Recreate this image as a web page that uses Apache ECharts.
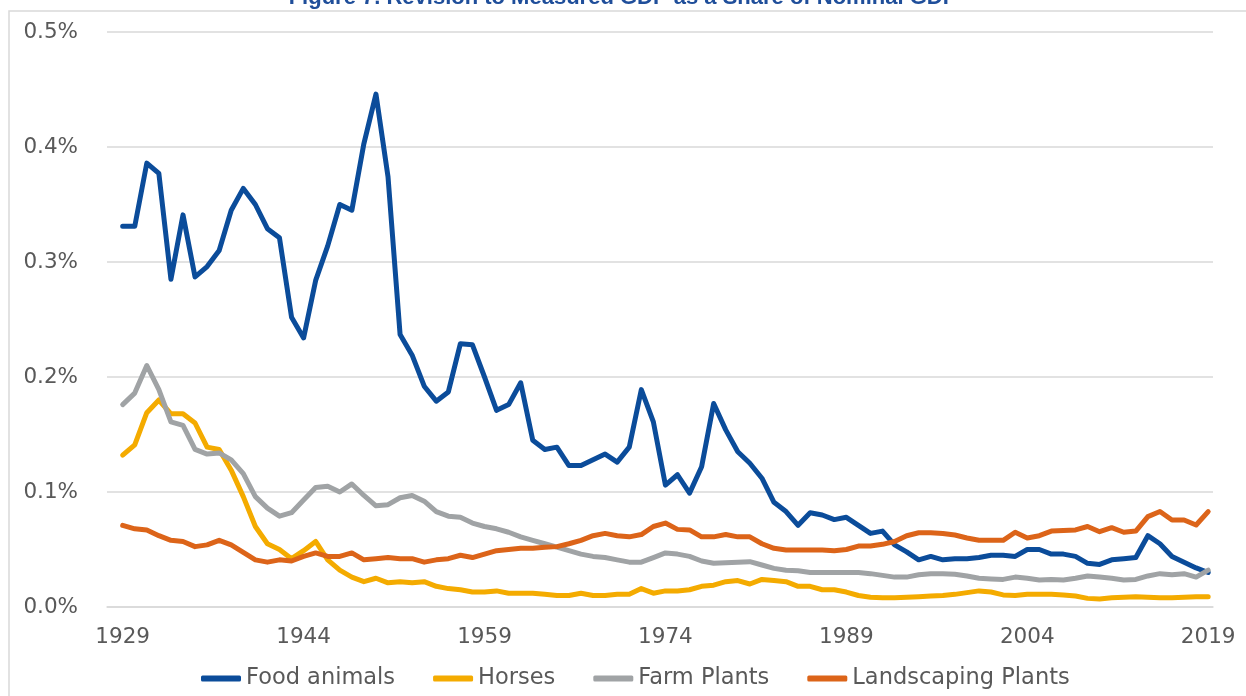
<!DOCTYPE html>
<html>
<head>
<meta charset="utf-8">
<script src="https://cdn.jsdelivr.net/npm/echarts@6/dist/echarts.min.js"></script>
<style>
html,body{margin:0;padding:0;background:#fff;}
#chart{width:1246px;height:696px;}
</style>
</head>
<body>
<div id="chart"></div>
<script>
const titleText = 'Figure 7. Revision to Measured GDP as a Share of Nominal GDP';
const firstYear = 1929, lastYear = 2019;
const tickYears = [1929, 1944, 1959, 1974, 1989, 2004, 2019];
const seriesNames = ['Food animals', 'Horses', 'Farm Plants', 'Landscaping Plants'];

const foodAnimals = [
  0.331, 0.331, 0.386, 0.377, 0.285, 0.341, 0.287, 0.296, 0.310, 0.345,
  0.364, 0.350, 0.329, 0.321, 0.252, 0.234, 0.284, 0.314, 0.350, 0.345,
  0.403, 0.446, 0.374, 0.237, 0.219, 0.192, 0.179, 0.187, 0.229, 0.228,
  0.200, 0.171, 0.176, 0.195, 0.145, 0.137, 0.139, 0.123, 0.123, 0.128,
  0.133, 0.126, 0.139, 0.189, 0.161, 0.106, 0.115, 0.099, 0.122, 0.177,
  0.154, 0.135, 0.125, 0.112, 0.091, 0.083, 0.071, 0.082, 0.080, 0.076,
  0.078, 0.071, 0.064, 0.066, 0.054, 0.048, 0.041, 0.044, 0.041, 0.042,
  0.042, 0.043, 0.045, 0.045, 0.044, 0.050, 0.050, 0.046, 0.046, 0.044,
  0.038, 0.037, 0.041, 0.042, 0.043, 0.062, 0.055, 0.044, 0.039, 0.034,
  0.030
];
const horses = [
  0.132, 0.141, 0.169, 0.180, 0.168, 0.168, 0.160, 0.139, 0.137, 0.119,
  0.096, 0.070, 0.055, 0.050, 0.042, 0.049, 0.057, 0.041, 0.032, 0.026,
  0.022, 0.025, 0.021, 0.022, 0.021, 0.022, 0.018, 0.016, 0.015, 0.013,
  0.013, 0.014, 0.012, 0.012, 0.012, 0.011, 0.010, 0.010, 0.012, 0.010,
  0.010, 0.011, 0.011, 0.016, 0.012, 0.014, 0.014, 0.015, 0.018, 0.019,
  0.022, 0.023, 0.020, 0.024, 0.023, 0.022, 0.018, 0.018, 0.015, 0.015,
  0.013, 0.010, 0.0085, 0.008, 0.008, 0.0085, 0.009, 0.0095, 0.010, 0.011,
  0.0125, 0.014, 0.013, 0.0105, 0.010, 0.011, 0.011, 0.011, 0.0105, 0.0095,
  0.0075, 0.007, 0.008, 0.0085, 0.009, 0.0085, 0.008, 0.008, 0.0085, 0.009,
  0.009
];
const farmPlants = [
  0.176, 0.186, 0.210, 0.189, 0.161, 0.158, 0.137, 0.133, 0.134, 0.128,
  0.116, 0.096, 0.086, 0.079, 0.082, 0.093, 0.104, 0.105, 0.100, 0.107,
  0.097, 0.088, 0.089, 0.095, 0.097, 0.092, 0.083, 0.079, 0.078, 0.073,
  0.070, 0.068, 0.065, 0.061, 0.058, 0.055, 0.052, 0.049, 0.046, 0.044,
  0.043, 0.041, 0.039, 0.039, 0.043, 0.047, 0.046, 0.044, 0.040, 0.038,
  0.0385, 0.039, 0.0394, 0.0365, 0.0336, 0.032, 0.0316, 0.030, 0.030, 0.030,
  0.030, 0.030, 0.029, 0.0275, 0.026, 0.026, 0.028, 0.029, 0.029, 0.0285,
  0.027, 0.025, 0.0244, 0.024, 0.026, 0.025, 0.0235, 0.024, 0.0235, 0.025,
  0.027, 0.026, 0.025, 0.0235, 0.024, 0.027, 0.029, 0.028, 0.029, 0.026,
  0.032
];
const landscapingPlants = [
  0.071, 0.068, 0.067, 0.062, 0.058, 0.057, 0.0525, 0.054, 0.058, 0.054,
  0.0475, 0.041, 0.039, 0.041, 0.040, 0.044, 0.047, 0.044, 0.044, 0.047,
  0.041, 0.042, 0.043, 0.042, 0.042, 0.039, 0.041, 0.042, 0.045, 0.043,
  0.046, 0.049, 0.050, 0.051, 0.051, 0.052, 0.0525, 0.055, 0.058, 0.062,
  0.064, 0.062, 0.061, 0.063, 0.070, 0.073, 0.0675, 0.067, 0.061, 0.061,
  0.063, 0.061, 0.061, 0.055, 0.051, 0.0496, 0.0496, 0.0496, 0.0496, 0.049,
  0.050, 0.053, 0.053, 0.0545, 0.057, 0.062, 0.0646, 0.0645, 0.064, 0.0626,
  0.060, 0.058, 0.058, 0.058, 0.065, 0.060, 0.062, 0.066, 0.0665, 0.067,
  0.070, 0.0655, 0.069, 0.065, 0.066, 0.0786, 0.083, 0.0757, 0.0757, 0.0713,
  0.083
];

const colors = ['#0B4C9A', '#F4AB00', '#A0A3A5', '#DC6419'];
const years = [];
for (let y = firstYear; y <= lastYear; y++) years.push(y);
const allValues = [foodAnimals, horses, farmPlants, landscapingPlants];

const chart = echarts.init(document.getElementById('chart'), null, {renderer: 'canvas'});
const option = {
  backgroundColor: '#ffffff',
  animation: false,
  title: {
    text: titleText,
    left: 'center',
    top: -18,
    textStyle: {fontFamily: 'Liberation Sans', fontWeight: 'bold', fontSize: 22, color: '#1F4E9A'}
  },
  graphic: [{
    type: 'rect',
    shape: {x: 9, y: 11, width: 1260, height: 720},
    style: {fill: 'none', stroke: '#D9D9D9', lineWidth: 1.5},
    silent: true, z: -1
  }],
  grid: {left: 107, right: 33, top: 32, bottom: 89, containLabel: false},
  legend: {
    left: 196, top: 662,
    itemWidth: 40, itemHeight: 6, itemGap: 38,
    icon: 'roundRect',
    textStyle: {fontFamily: 'DejaVu Sans', fontSize: 22.5, color: '#595959'},
    data: seriesNames
  },
  xAxis: {
    type: 'value',
    min: 1927.7, max: 2019.4,
    axisLine: {show: true, lineStyle: {color: '#D9D9D9', width: 1.5}},
    axisTick: {show: false},
    splitLine: {show: false},
    axisLabel: {
      customValues: tickYears,
      margin: 19,
      formatter: v => String(v),
      fontFamily: 'DejaVu Sans', fontSize: 21.5, color: '#595959'
    }
  },
  yAxis: {
    type: 'value',
    min: 0, max: 0.5, interval: 0.1,
    axisLine: {show: false},
    axisTick: {show: false},
    splitLine: {lineStyle: {color: '#D9D9D9', width: 1.5}},
    axisLabel: {
      margin: 29,
      formatter: v => v.toFixed(1) + '%',
      fontFamily: 'DejaVu Sans', fontSize: 21.5, color: '#595959'
    }
  },
  series: seriesNames.map((name, i) => ({
    name: name,
    type: 'line',
    showSymbol: false,
    symbol: 'none',
    color: colors[i],
    lineStyle: {width: 5, color: colors[i], cap: 'round', join: 'round'},
    data: years.map((y, k) => [y, allValues[i][k]])
  }))
};
chart.setOption(option);
</script>
</body>
</html>
